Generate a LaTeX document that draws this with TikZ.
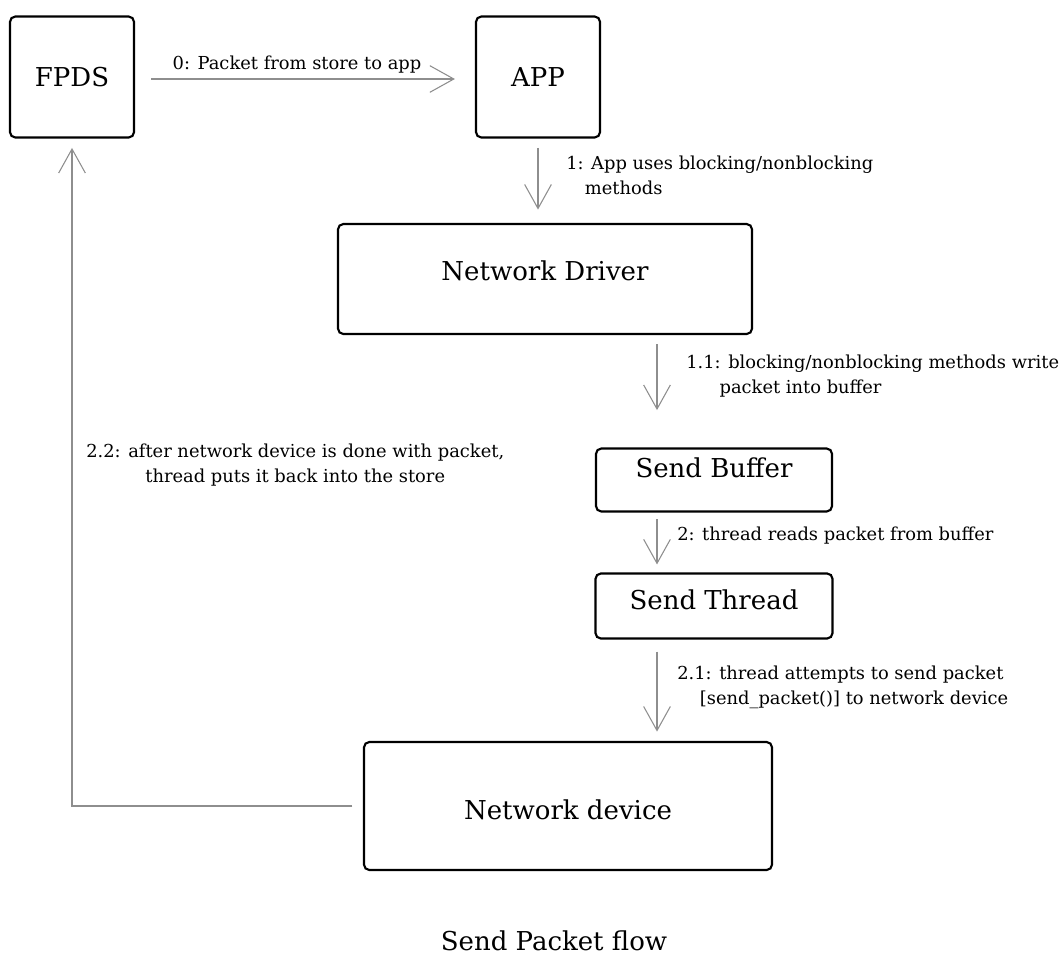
\documentclass[tikz,border=0pt]{standalone}
\usepackage{fontspec}
\setmainfont{DejaVu Serif}
\usepackage{tikz}
\usetikzlibrary{positioning, arrows.meta, calc}
\definecolor{FlowGray}{HTML}{8E8E8E}

\begin{document}
\begin{tikzpicture}[
      x=0.75pt, y=-0.75pt,
      block/.style={draw=black, line width=1.6pt, rounded corners=4pt, fill=white, inner sep=0pt},
      boxtext/.style={inner sep=0pt, font=\fontsize{19.5}{24}\selectfont},
      flow/.style={FlowGray, line width=0.8pt, -{Straight Barb[length=18pt, width=20pt, line width=0.8pt]}},
      note/.style={inner sep=0pt, align=left, font=\fontsize{13.4}{18.75}\selectfont}
  ]
    \useasboundingbox (0,0) rectangle (1064,968);
    % boxes
    \node[block, minimum width=124*0.75pt, minimum height=121*0.75pt,
      label={[boxtext]center:FPDS}](fpds) at (72,77){};
    \node[block, minimum width=124*0.75pt, minimum height=121*0.75pt,
      label={[boxtext]center:APP}](app) at (538,77){};
    \node[block, minimum width=414*0.75pt, minimum height=110*0.75pt,
      label={[boxtext, yshift=6pt]center:Network Driver}](driver) at (545,279){};
    \node[block, minimum width=236*0.75pt, minimum height=63*0.75pt,
      label={[boxtext, yshift=9pt]center:Send Buffer}](buffer) at (714,480){};
    \node[block, minimum width=237*0.75pt, minimum height=65*0.75pt,
      label={[boxtext, yshift=5pt]center:Send Thread}](thread) at (714,606){};
    \node[block, minimum width=408*0.75pt, minimum height=128*0.75pt,
      label={[boxtext, yshift=-3pt]center:Network device}](device) at (568,806){};
    \coordinate (col) at (657,0);
    % connectors
    \draw[flow, shorten <=12pt, shorten >=15pt] ([yshift=-1.5pt]fpds.east) -- ([yshift=-1.5pt]app.west);
    \draw[flow, shorten <=7pt, shorten >=10pt] (app.south) -- (app.south |- driver.north);
    \draw[flow, shorten <=7pt, shorten >=28pt] (driver.south -| col) -- (buffer.north -| col);
    \draw[flow, shorten <=5pt, shorten >=6pt] (buffer.south -| col) -- (thread.north -| col);
    \draw[flow, shorten <=9pt, shorten >=7pt] (thread.south -| col) -- (device.north -| col);
    \draw[flow, shorten <=8pt, shorten >=7pt] (device.west) -| (fpds.south);
    % labels
    \node[note, anchor=base](l0) at (297,69){0: Packet from store to app};
    \node[note, anchor=north west](l1) at (566,156){1: App uses blocking/nonblocking\\\hspace*{14pt}methods};
    \node[note, anchor=north west](l11) at (686,355){1.1: blocking/nonblocking methods write\\\hspace*{25pt}packet into buffer};
    \node[note, anchor=west](l2) at (677,536){2: thread reads packet from buffer};
    \node[note, anchor=north west](l21) at (677,666){2.1: thread attempts to send packet\\\hspace*{17pt}[send\_packet()] to network device};
    \node[note, align=center, anchor=west](l22) at (86,465){2.2: after network device is done with packet,\\thread puts it back into the store};
    \node[boxtext](title) at (554,941){Send Packet flow};
  \end{tikzpicture}
\end{document}
